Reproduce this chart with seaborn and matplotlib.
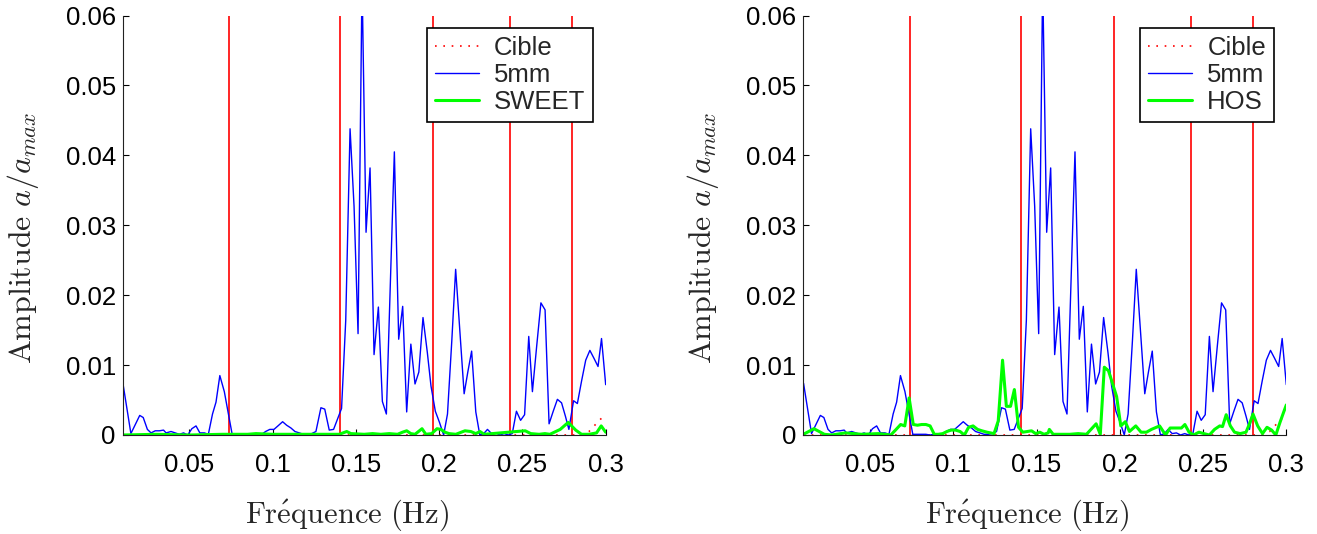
import numpy as np
import pandas as pd
import seaborn as sns
import matplotlib
matplotlib.use('Agg')
import matplotlib.pyplot as plt
from matplotlib.lines import Line2D

# Spectre mesure 5mm (commun aux deux figures)
freq_5mm = [0.0101, 0.0149, 0.0202, 0.0223, 0.0248, 0.027, 0.0295, 0.032, 0.0345, 0.036,
            0.039, 0.0415, 0.044, 0.0465, 0.049, 0.0515, 0.054, 0.0563, 0.059, 0.0614,
            0.0639, 0.066, 0.0683, 0.071, 0.0733, 0.0757, 0.078, 0.081, 0.0835, 0.086,
            0.0885, 0.091, 0.0935, 0.0958, 0.0983, 0.1008, 0.1032, 0.106, 0.1084, 0.111,
            0.1134, 0.116, 0.1185, 0.121, 0.1235, 0.126, 0.129, 0.1313, 0.134, 0.1366,
            0.139, 0.1414, 0.1439, 0.1465, 0.1489, 0.1513, 0.1537, 0.1561, 0.1585, 0.1609,
            0.1635, 0.1659, 0.1683, 0.1731, 0.1757, 0.1781, 0.1805, 0.183, 0.1855, 0.1878,
            0.1903, 0.1929, 0.1951, 0.1977, 0.2002, 0.2027, 0.205, 0.2076, 0.2099, 0.215,
            0.2172, 0.2195, 0.222, 0.2244, 0.2268, 0.229, 0.2315, 0.234, 0.2365, 0.239,
            0.2415, 0.2439, 0.2464, 0.2489, 0.2513, 0.2538, 0.256, 0.2586, 0.2611, 0.2636,
            0.266, 0.2685, 0.271, 0.2735, 0.2758, 0.2779, 0.2807, 0.283, 0.2855, 0.288,
            0.2905, 0.2929, 0.2954, 0.2975, 0.3]
amp_5mm = [0.0074, 0.0002, 0.0028, 0.0025, 0.0008, 0.0003, 0.0006, 0.0006, 0.0007, 0.0003,
           0.0005, 0.0003, 0.0001, 0.0003, 0.0, 0.0009, 0.0013, 0.0003, 0.0003, 0.0001,
           0.003, 0.0047, 0.0085, 0.0062, 0.0032, 0.0001, 0.0001, 0.0001, 0.0001, 0.0,
           0.0001, 0.0, 0.0001, 0.0005, 0.0008, 0.0008, 0.0013, 0.0019, 0.0014, 0.001,
           0.0005, 0.0003, 0.0001, 0.0001, 0.0002, 0.0005, 0.0039, 0.0037, 0.0007, 0.0008,
           0.0023, 0.0038, 0.0164, 0.0438, 0.0327, 0.0145, 0.065, 0.029, 0.0382, 0.0115,
           0.0183, 0.0048, 0.003, 0.0405, 0.0137, 0.0184, 0.0033, 0.013, 0.0073, 0.009,
           0.0168, 0.0118, 0.007, 0.0034, 0.0018, 0.0, 0.003, 0.0135, 0.0237, 0.0059,
           0.009, 0.012, 0.0033, 0.0, 0.0002, 0.0008, 0.0002, 0.0003, 0.0, 0.0002,
           0.0, 0.0002, 0.0034, 0.0021, 0.0029, 0.0141, 0.0062, 0.0128, 0.0189, 0.0179,
           0.0016, 0.0034, 0.0051, 0.0046, 0.0027, 0.0008, 0.0049, 0.0045, 0.0077, 0.0107,
           0.0121, 0.011, 0.0098, 0.0138, 0.0072]

# Simulation SWEET
freq_sweet = [0.01, 0.03, 0.05, 0.07, 0.085, 0.09, 0.1, 0.12, 0.14, 0.1445, 0.147, 0.155,
              0.16, 0.165, 0.17, 0.175, 0.178, 0.1805, 0.183, 0.1855, 0.1897, 0.192, 0.1955,
              0.1987, 0.201, 0.2035, 0.206, 0.21, 0.2155, 0.219, 0.222, 0.2245, 0.227, 0.232,
              0.2415, 0.2465, 0.2517, 0.255, 0.26, 0.2635, 0.2665, 0.2727, 0.2775, 0.282,
              0.2855, 0.29, 0.2945, 0.2973, 0.3]
amp_sweet = [0.0, 0.0001, 0.0, 0.0001, 0.0001, 0.0002, 0.0001, 0.0001, 0.0001, 0.0005, 0.0002,
             0.0001, 0.0002, 0.0001, 0.0002, 0.0001, 0.0004, 0.0006, 0.0002, 0.0001, 0.0009,
             0.0001, 0.0002, 0.0009, 0.0008, 0.0004, 0.0002, 0.0001, 0.0006, 0.0005, 0.0002,
             0.0005, 0.0001, 0.0002, 0.0004, 0.0005, 0.0006, 0.0002, 0.0001, 0.0002, 0.0001,
             0.0008, 0.0018, 0.0007, 0.0001, 0.0001, 0.0003, 0.0013, 0.0004]

# Simulation HOS
freq_hos = [0.01, 0.0132, 0.0163, 0.0195, 0.0226, 0.027, 0.0352, 0.045, 0.055, 0.0625,
            0.0657, 0.0684, 0.0709, 0.0735, 0.076, 0.0785, 0.081, 0.0836, 0.0861, 0.0886,
            0.091, 0.0937, 0.0962, 0.0987, 0.1014, 0.1041, 0.1067, 0.1092, 0.1119, 0.1146,
            0.1172, 0.1203, 0.1245, 0.127, 0.1296, 0.1319, 0.1344, 0.1367, 0.1392, 0.1418,
            0.1445, 0.147, 0.1495, 0.152, 0.1545, 0.157, 0.1577, 0.16, 0.165, 0.17, 0.175,
            0.18, 0.1858, 0.1883, 0.1907, 0.1932, 0.1956, 0.1981, 0.2006, 0.2033, 0.2058,
            0.2096, 0.2128, 0.216, 0.219, 0.2239, 0.2275, 0.2302, 0.234, 0.237, 0.2391,
            0.2416, 0.2443, 0.2475, 0.2505, 0.2538, 0.2569, 0.26, 0.2617, 0.2639, 0.2664,
            0.2689, 0.2723, 0.2758, 0.2779, 0.28, 0.2828, 0.2857, 0.2884, 0.2912, 0.2937,
            0.2962, 0.2983, 0.3]
amp_hos = [0.0001, 0.0005, 0.0009, 0.0005, 0.0001, 0.0, 0.0003, 0.0001, 0.0002, 0.0,
           0.0008, 0.0015, 0.0013, 0.0053, 0.0015, 0.0014, 0.0015, 0.0015, 0.0013, 0.0001,
           0.0001, 0.0002, 0.0005, 0.0007, 0.0007, 0.0005, 0.0, 0.0011, 0.0013, 0.0008,
           0.0006, 0.0004, 0.0002, 0.002, 0.0107, 0.0041, 0.0041, 0.0065, 0.0011, 0.0004,
           0.0005, 0.0006, 0.0002, 0.0004, 0.0001, 0.0003, 0.0008, 0.0001, 0.0001, 0.0001,
           0.0002, 0.0001, 0.0016, 0.0001, 0.0097, 0.0092, 0.0074, 0.0055, 0.0013, 0.0019,
           0.0005, 0.0013, 0.0004, 0.0004, 0.0008, 0.0013, 0.0, 0.001, 0.001, 0.001,
           0.0015, 0.0004, 0.0, 0.0004, 0.0002, 0.0, 0.0008, 0.0013, 0.0012, 0.0029,
           0.0013, 0.0004, 0.0002, 0.0004, 0.0016, 0.003, 0.0013, 0.0002, 0.0011, 0.0007,
           0.0, 0.0018, 0.0032, 0.0043]

# Cible : fond quasi nul + raies (hors echelle)
freq_cible = [0.01, 0.285, 0.29, 0.295, 0.3]
amp_cible = [0.0, 0.0, 0.0005, 0.0018, 0.003]
raies_cible = [0.0738, 0.1404, 0.1965, 0.2425, 0.2797]

xticks = [0.05, 0.1, 0.15, 0.2, 0.25, 0.3]
xticklabels = ['0.05', '0.1', '0.15', '0.2', '0.25', '0.3']
yticks = [0, 0.01, 0.02, 0.03, 0.04, 0.05, 0.06]
yticklabels = ['0', '0.01', '0.02', '0.03', '0.04', '0.05', '0.06']

sns.set_style('ticks')
plt.rcParams['font.family'] = ['Liberation Sans', 'DejaVu Sans']
plt.rcParams['mathtext.fontset'] = 'cm'

fig = plt.figure(figsize=(13.17, 5.34), dpi=100)
ax1 = fig.add_axes([0.0932, 0.1854, 0.3667, 0.7855])
ax2 = fig.add_axes([0.61, 0.1854, 0.3667, 0.7855])

df_5mm = pd.DataFrame({'f': freq_5mm, 'a': amp_5mm})
df_cible = pd.DataFrame({'f': freq_cible, 'a': amp_cible})

for ax, fsim, asim, nom in [(ax1, freq_sweet, amp_sweet, 'SWEET'),
                            (ax2, freq_hos, amp_hos, 'HOS')]:
    sns.lineplot(data=df_cible, x='f', y='a', ax=ax, color='#ff0000', lw=1.2,
                 linestyle=(0, (1, 4)), estimator=None)
    ax.vlines(raies_cible, 0, 1, color='#ff0000', lw=1.2)
    sns.lineplot(data=df_5mm, x='f', y='a', ax=ax, color='#0000ff', lw=1.0, estimator=None)
    df_sim = pd.DataFrame({'f': fsim, 'a': asim})
    sns.lineplot(data=df_sim, x='f', y='a', ax=ax, color='#00ff00', lw=2.2, estimator=None)

    ax.set_xlim(0.01, 0.3)
    ax.set_ylim(0, 0.06)
    ax.set_xticks(xticks)
    ax.set_xticklabels(xticklabels)
    ax.set_yticks(yticks)
    ax.set_yticklabels(yticklabels)
    ax.tick_params(axis='both', direction='in', length=4, labelsize=18.5, colors='black')
    ax.tick_params(axis='x', pad=13)
    ax.tick_params(axis='y', pad=5)
    for s in ['top', 'right']:
        ax.spines[s].set_visible(False)
    for s in ['left', 'bottom']:
        ax.spines[s].set_color('#222222')
        ax.spines[s].set_linewidth(0.8)

    ax.set_xlabel(r'$\mathrm{Fr\acute{e}quence\ (Hz)}$', fontsize=22)
    ax.set_ylabel(r'$\mathrm{Amplitude}\ a/a_{max}$', fontsize=23)
    ax.xaxis.set_label_coords(0.464, -0.15)
    ax.yaxis.set_label_coords(-0.17, 0.47)

    handles = [Line2D([], [], color='#ff0000', lw=1.2, linestyle=(0, (1, 4))),
               Line2D([], [], color='#0000ff', lw=1.0),
               Line2D([], [], color='#00ff00', lw=2.2)]
    leg = ax.legend(handles, ['Cible', '5mm', nom], loc='upper right',
                    bbox_to_anchor=(0.974, 0.97), borderaxespad=0, fontsize=18.5,
                    fancybox=False, framealpha=1, edgecolor='black',
                    handlelength=1.7, labelspacing=0.12, borderpad=0.3,
                    handletextpad=0.6)
    leg.get_frame().set_linewidth(1.2)

fig.savefig('out.png', dpi=100)
